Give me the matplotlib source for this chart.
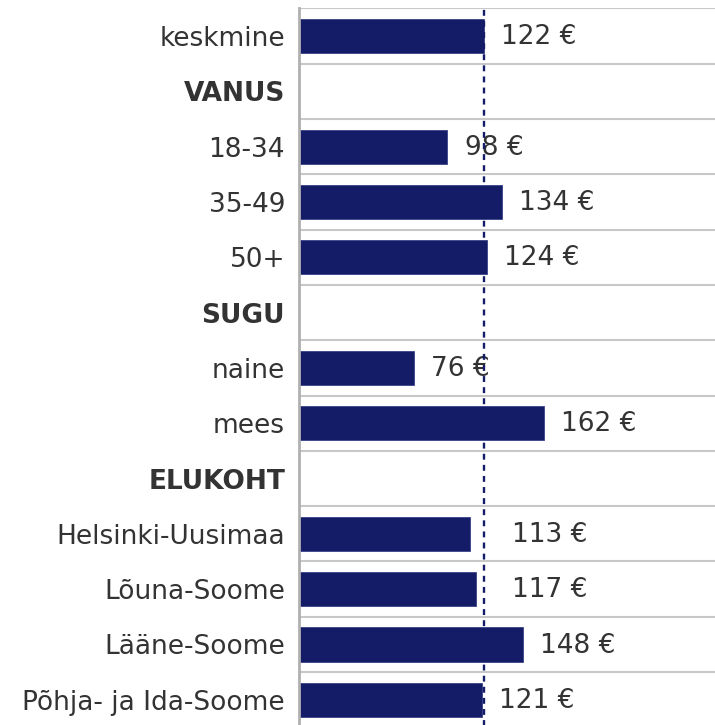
import numpy as np
import matplotlib.pyplot as plt

# Daten
labels = ['keskmine', 'VANUS', '18-34', '35-49', '50+', 'SUGU', 'naine', 'mees',
          'ELUKOHT', 'Helsinki-Uusimaa', 'Lõuna-Soome', 'Lääne-Soome', 'Põhja- ja Ida-Soome']
values = [122, None, 98, 134, 124, None, 76, 162, None, 113, 117, 148, 121]
headers = ['VANUS', 'SUGU', 'ELUKOHT']
average = 122

navy = '#141c68'
text_col = '#333333'

fig = plt.figure(figsize=(7.15, 7.25), dpi=100)
ax = fig.add_axes([299 / 715, -0.0033, 1 - 299 / 715, 0.9916])

y = np.arange(len(labels))
for yi, v in zip(y, values):
    if v is None:
        continue
    ax.barh(yi, v, height=0.62, color=navy, edgecolor='#3a428a', linewidth=0.6, zorder=3)
    # Beschriftung, bei Nähe zur Linie hinter die Linie schieben
    if 2 < average - v < 15:
        xl = average + 19
    else:
        xl = v + 11.5
    ax.text(xl, yi + 0.02, f'{v} €', va='center', ha='left', fontsize=19,
            color=text_col, zorder=4)

ax.axvline(average, color=navy, linestyle=(0, (2.5, 2.2)), linewidth=1.7, zorder=5)

# Trennlinien
for b in np.arange(-0.5, len(labels), 1.0):
    ax.axhline(b, color='#c8c8c8', linewidth=1.5, zorder=1)

ax.set_xlim(0, 275)
ax.set_ylim(len(labels) - 0.5, -0.5)
ax.set_yticks(y)
ax.set_yticklabels(labels)
for t in ax.get_yticklabels():
    t.set_fontsize(19)
    t.set_color(text_col)
    if t.get_text() in headers:
        t.set_fontweight('bold')
ax.tick_params(axis='y', length=0, pad=10)
ax.set_xticks([])
for s in ['top', 'right', 'bottom']:
    ax.spines[s].set_visible(False)
ax.spines['left'].set_color('#b0b0b0')
ax.spines['left'].set_linewidth(2)
ax.spines['left'].set_zorder(6)

fig.savefig('out.png', dpi=100)
